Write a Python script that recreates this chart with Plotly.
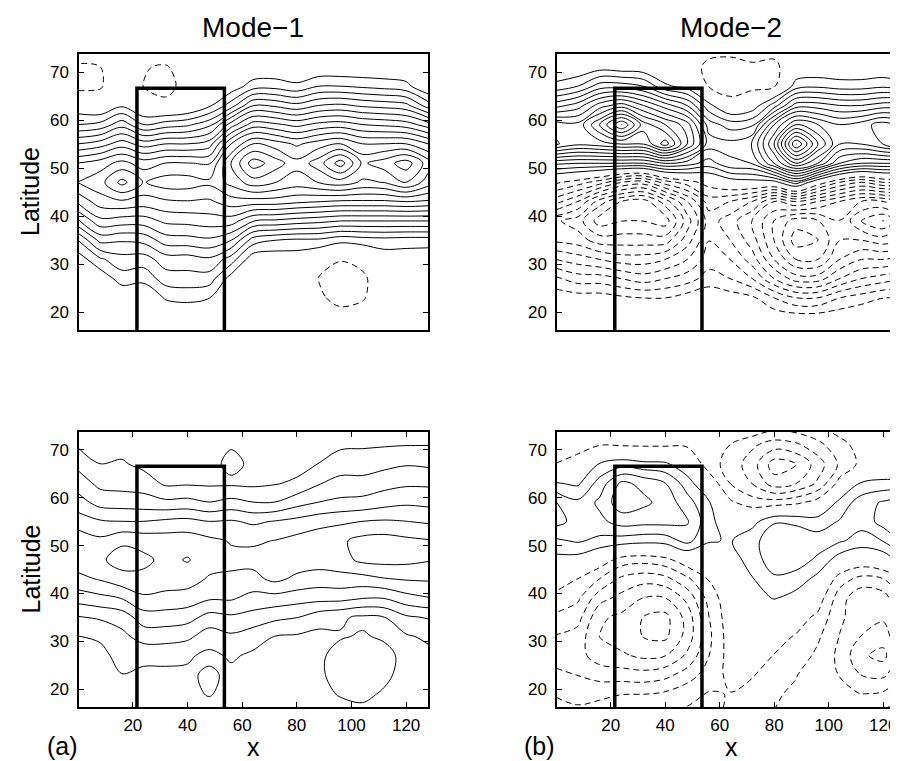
import plotly.graph_objects as go

# ---------------- data ----------------
x_grid = [0, 8, 16, 24, 32, 40, 48, 56, 64, 72, 80, 88, 96, 104, 112, 120, 128]
lat_grid = [15, 19, 23, 27, 31, 35, 39, 43, 47, 51, 55, 59, 63, 67, 71, 75]

# Mode-1, upper panel: one row per latitude (south -> north), one value per x
mode1_upper_rows = [
    [0, 0, 0, 0, 0, 0, 0, 0, 0, 0, 0, 0, 0, 0, 0, 0, 0],
    [0, 0, 0, 0, 0, 0, 0, 0, 0, 0, 0, -0.3, -0.6, -0.4, 0, 0, 0],
    [0, 0, 0, 0, 1.1, 1.3, 1.0, 0, 0, 0, -0.2, -0.8, -1.3, -1.1, -0.2, 0, 0],
    [0, 0.2, 1.5, 1.3, 2.5, 2.6, 2.5, 0.5, 0, 0, -0.4, -1.0, -1.5, -1.2, -0.2, 0, 0],
    [0.4, 1.8, 2.6, 2.5, 3.5, 3.5, 3.8, 2.5, 0.3, 0.2, 0.3, -0.3, -0.9, -0.6, 0.3, 0.3, 0.2],
    [2.0, 4.3, 4.1, 4.3, 5.5, 5.6, 5.8, 5.0, 2.5, 2.0, 1.8, 1.8, 1.3, 1.5, 1.6, 1.5, 1.5],
    [4.8, 6.7, 6.5, 6.5, 7.2, 7.3, 7.5, 7.5, 6.0, 5.8, 5.5, 5.3, 5.0, 5.0, 5.0, 5.0, 5.0],
    [7.2, 8.5, 8.8, 8.5, 8.8, 8.9, 8.8, 9.5, 9.5, 9.5, 9.2, 9.0, 8.8, 8.8, 8.8, 9.0, 8.8],
    [9.0, 9.6, 11.3, 9.9, 10.5, 10.5, 10.2, 11.3, 12.5, 12.0, 11.5, 12.0, 12.5, 11.8, 12.0, 13.0, 11.5],
    [8.0, 8.5, 9.3, 8.5, 9.0, 9.0, 8.9, 12.0, 14.5, 13.5, 12.3, 13.5, 15.5, 12.8, 13.5, 14.5, 12.5],
    [5.0, 5.5, 6.5, 5.5, 6.0, 6.0, 6.5, 10.0, 12.0, 11.5, 10.8, 11.5, 12.0, 11.0, 11.0, 11.0, 10.0],
    [2.0, 2.3, 3.6, 2.0, 2.5, 2.8, 3.7, 6.5, 8.5, 8.2, 7.7, 8.3, 8.5, 8.0, 7.8, 7.5, 6.5],
    [0.2, -0.2, 0.8, -0.4, -0.7, -0.3, 0.8, 2.5, 5.0, 4.8, 4.3, 5.0, 5.2, 4.8, 4.6, 4.3, 2.5],
    [-1.3, -1.1, 0, -1.0, -1.3, -0.6, 0, 0.3, 1.5, 1.6, 1.2, 2.0, 2.0, 1.8, 1.6, 1.3, 0],
    [-1.2, -1.0, 0, -0.9, -1.1, -0.3, 0, 0, 0, 0, 0, 0, 0, 0, 0, 0, 0],
    [0, 0, 0, 0, 0, 0, 0, 0, 0, 0, 0, 0, 0, 0, 0, 0, 0],
]

# Other panels: one latitude profile (south -> north) per x column
mode2_upper_cols = [
    [0, 0, -0.3, -1.8, -4.0, -6.2, -6.8, -3.6, -0.8, 3.2, 9.1, 8.6, 4.6, 1.3, 0, 0],
    [0, 0, -0.5, -2.5, -4.5, -6.5, -7.5, -5.0, -1.5, 3.0, 8.2, 8.3, 5.5, 2.0, 0, 0],
    [0, 0, -0.5, -2.5, -5.0, -7.5, -9.5, -7.5, -2.5, 3.0, 8.5, 11.0, 7.5, 3.5, 0.5, 0],
    [0, 0, -0.8, -3.0, -5.5, -7.5, -9.0, -9.0, -4.0, 3.0, 9.0, 14.0, 8.5, 3.5, 0.3, 0],
    [0, 0, -1.0, -3.5, -5.5, -7.5, -9.0, -9.5, -4.5, 3.0, 9.0, 10.5, 7.0, 3.0, 0.2, 0],
    [0, 0, -1.0, -3.0, -5.0, -7.5, -9.5, -7.5, -2.5, 4.0, 11.5, 9.0, 5.5, 1.2, -0.3, 0],
    [0, 0, -0.5, -2.5, -4.0, -5.5, -6.5, -5.0, -1.5, 3.5, 8.0, 7.5, 4.0, 0.6, -0.3, 0],
    [0, 0, -0.3, -1.5, -2.5, -3.0, -3.5, -2.5, -0.5, 2.5, 4.5, 3.5, 1.3, -1.0, -1.3, -0.5],
    [0, 0, -0.5, -2.0, -3.0, -4.0, -4.5, -3.0, 0.3, 3.8, 4.3, 2.5, -0.3, -1.7, -1.5, -0.5],
    [0, 0, -0.8, -3.0, -4.5, -5.5, -6.0, -4.0, 0.5, 4.0, 5.0, 2.8, 0.3, -1.3, -1.2, -0.3],
    [0, -0.3, -2.0, -5.0, -7.0, -8.0, -8.0, -6.0, 0.5, 7.0, 9.0, 7.0, 2.5, -1.1, -1.3, -0.5],
    [0, -0.5, -3.0, -6.5, -9.0, -10.5, -9.5, -5.0, 2.5, 10.0, 15.0, 10.0, 5.5, 1.5, 0, 0],
    [0, -0.5, -3.0, -6.5, -9.0, -10.0, -9.0, -6.0, -0.2, 8.0, 11.0, 9.0, 5.5, 1.8, 0, 0],
    [0, -0.3, -2.0, -5.0, -7.0, -8.0, -8.0, -7.0, -2.0, 5.0, 8.0, 8.0, 5.0, 1.5, 0, 0],
    [0, 0, -1.5, -4.0, -6.0, -8.0, -10.0, -8.0, -3.0, 4.0, 8.0, 8.5, 5.0, 1.5, 0, 0],
    [0, 0, -1.0, -3.5, -6.0, -8.5, -11.0, -8.0, -2.0, 4.0, 9.0, 9.5, 5.5, 1.8, 0, 0],
    [0, 0, -1.0, -3.0, -5.5, -8.0, -9.0, -7.0, -2.0, 4.0, 10.0, 8.5, 5.5, 1.3, 0, 0],
]

mode1_lower_cols = [
    [0.3, 0.4, 0.5, 0.7, 0.95, 1.9, 3.4, 4.7, 5.5, 5.6, 4.5, 3.4, 2.5, 1.7, 0.85, 0.5],
    [0.3, 0.4, 0.5, 0.7, 1.1, 2.1, 3.7, 5.05, 5.8, 5.2, 4.1, 2.6, 1.7, 0.98, 0.6, 0.4],
    [0.4, 0.6, 0.95, 1.3, 1.7, 2.4, 4.0, 5.6, 6.4, 5.8, 4.0, 2.5, 1.6, 1.1, 0.6, 0.4],
    [0.4, 0.6, 0.75, 1.25, 2.4, 3.5, 4.8, 5.7, 6.2, 5.6, 4.0, 2.4, 1.5, 0.7, 0.5, 0.4],
    [0.4, 0.6, 0.75, 1.25, 2.4, 3.5, 4.7, 5.4, 5.7, 5.5, 4.2, 2.2, 0.8, 0.5, 0.4, 0.4],
    [0.45, 0.7, 0.8, 1.1, 2.2, 3.35, 4.55, 5.4, 6.05, 5.5, 4.3, 2.3, 0.85, 0.5, 0.4, 0.4],
    [0.5, 1.05, 1.15, 0.75, 1.45, 2.6, 4.1, 4.85, 5.4, 5.2, 4.0, 2.0, 0.8, 0.7, 0.6, 0.5],
    [0.5, 0.6, 0.75, 1.1, 1.8, 2.8, 4.1, 4.8, 5.2, 4.9, 4.1, 2.3, 0.8, 1.2, 0.9, 0.6],
    [0.4, 0.5, 0.6, 0.8, 1.4, 2.6, 3.6, 4.7, 5.25, 4.85, 3.8, 2.0, 0.75, 0.8, 0.7, 0.5],
    [0.4, 0.4, 0.5, 0.7, 0.95, 2.2, 3.6, 5.2, 5.5, 5.0, 4.05, 2.0, 0.9, 0.5, 0.4, 0.4],
    [0.3, 0.35, 0.4, 0.6, 0.85, 2.0, 3.4, 4.75, 5.5, 5.3, 4.3, 2.6, 1.15, 0.6, 0.4, 0.3],
    [0.5, 0.7, 0.8, 0.8, 0.7, 1.4, 3.3, 4.5, 5.45, 5.6, 4.6, 3.0, 1.9, 1.0, 0.5, 0.4],
    [0.6, 1.05, 1.35, 1.3, 0.9, 1.1, 3.3, 4.6, 5.6, 5.8, 4.8, 3.2, 2.3, 1.5, 0.8, 0.5],
    [0.7, 1.2, 1.5, 1.45, 1.05, 0.8, 3.0, 4.6, 6.2, 6.3, 5.0, 3.3, 2.3, 1.5, 0.85, 0.6],
    [0.5, 0.85, 1.2, 1.25, 0.85, 0.95, 3.0, 4.9, 6.3, 6.4, 5.1, 3.6, 2.6, 1.7, 0.9, 0.6],
    [0.4, 0.5, 0.6, 0.7, 0.85, 1.8, 3.6, 5.05, 6.25, 6.2, 5.0, 3.8, 2.8, 1.9, 0.95, 0.6],
    [0.3, 0.4, 0.5, 0.7, 1.15, 2.05, 3.9, 5.1, 6.05, 6.05, 4.85, 3.7, 2.8, 1.8, 0.95, 0.6],
]

mode2_lower_cols = [
    [-1.6, -2.05, -2.8, -3.3, -3.05, -2.2, -1.3, -0.4, 0.6, 1.8, 3.3, 3.05, 1.05, -0.95, -1.3, -1.2],
    [-1.8, -2.2, -3.0, -3.6, -3.4, -2.6, -1.8, -1.0, 0.5, 2.1, 2.6, 2.2, 0.8, -0.7, -1.2, -1.1],
    [-1.5, -2.2, -3.4, -4.5, -5.0, -4.8, -3.6, -2.0, -0.3, 1.7, 2.7, 3.2, 2.4, 1.1, -1.0, -1.1],
    [-1.3, -2.0, -3.5, -4.8, -5.5, -5.2, -4.3, -3.2, -1.4, 1.5, 3.4, 4.6, 4.2, 1.6, -1.05, -1.1],
    [-1.2, -2.0, -3.6, -5.2, -6.0, -6.0, -5.0, -3.6, -1.6, 1.3, 3.3, 4.2, 3.7, 1.3, -1.1, -1.2],
    [-1.0, -1.8, -3.3, -5.0, -6.2, -6.3, -5.0, -3.3, -1.3, 1.4, 3.3, 3.6, 3.0, 1.2, -1.1, -1.2],
    [-0.8, -1.3, -2.5, -3.8, -4.6, -4.6, -3.7, -2.2, -0.3, 2.3, 3.1, 2.4, 1.5, 0.2, -1.1, -1.3],
    [-0.5, -0.9, -1.5, -2.0, -2.2, -2.0, -1.6, -0.9, 0.2, 1.05, 1.3, 1.1, -0.2, -1.5, -1.6, -0.8],
    [-1.3, -1.0, -0.7, -0.5, -0.4, -0.3, -0.2, 0.1, 0.4, 0.9, 0.2, -0.8, -2.0, -2.4, -2.0, -0.8],
    [-1.5, -1.3, -0.9, -0.6, -0.4, -0.2, 0.3, 0.9, 1.5, 1.7, 0.6, -1.5, -3.0, -3.5, -2.8, -1.0],
    [-2.0, -1.8, -1.4, -1.0, -0.6, 0.1, 1.05, 1.8, 2.5, 2.5, 1.9, -1.5, -4.5, -5.5, -3.5, -1.5],
    [-2.4, -2.2, -1.9, -1.4, -1.05, -0.5, 0.5, 1.6, 2.4, 2.6, 1.8, -1.2, -4.0, -5.0, -3.2, -1.3],
    [-2.5, -2.7, -2.7, -2.2, -1.8, -1.2, -0.4, 0.6, 1.8, 2.4, 1.5, -0.5, -2.8, -3.5, -2.3, -1.0],
    [-2.0, -2.5, -3.0, -3.2, -3.0, -2.8, -2.5, -1.5, 0.4, 2.1, 2.05, 1.3, -0.6, -1.8, -1.3, -0.5],
    [-2.0, -3.0, -4.0, -4.8, -4.0, -3.5, -3.8, -2.3, -0.2, 1.6, 2.3, 2.5, 1.1, -0.7, -0.6, -0.3],
    [-1.8, -2.8, -4.2, -5.3, -4.5, -3.8, -3.5, -2.0, 0.2, 2.0, 3.4, 3.1, 1.3, -0.3, -0.5, -0.3],
    [-1.3, -2.0, -2.8, -3.2, -2.8, -2.2, -1.6, -0.8, 1.6, 3.2, 4.3, 3.6, 1.2, -0.2, -0.4, -0.3],
]

box_x = [21.5, 21.5, 53.5, 53.5]
box_lat = [16.25, 66.6, 66.6, 16.25]

x_ticks = [20, 40, 60, 80, 100, 120]
lat_ticks = [20, 30, 40, 50, 60, 70]
column_titles = ["Mode\u22121", "Mode\u22122"]
panel_tags = ["(a)", "(b)"]
x_label = "x"
y_label = "Latitude"

X_RANGE = [0.3, 128]
LAT_RANGE = [16.25, 73.75]


def to_rows(cols):
    return [list(r) for r in zip(*cols)]


fields = [
    mode1_upper_rows,
    to_rows(mode2_upper_cols),
    to_rows(mode1_lower_cols),
    to_rows(mode2_lower_cols),
]

W, H = 898, 761
FONT = "Liberation Sans, Arial, Helvetica, sans-serif"

fig = go.Figure()

for i, z in enumerate(fields):
    sfx = "" if i == 0 else str(i + 1)
    xa, ya = "x" + sfx, "y" + sfx
    fig.add_trace(go.Contour(
        x=x_grid, y=lat_grid, z=z, autocontour=False,
        contours=dict(start=0.97, end=40.97, size=1, coloring="none"),
        line=dict(color="black", width=1, smoothing=1.0),
        showscale=False, hoverinfo="skip", xaxis=xa, yaxis=ya,
    ))
    fig.add_trace(go.Contour(
        x=x_grid, y=lat_grid, z=z, autocontour=False,
        contours=dict(start=-39.97, end=-0.97, size=1, coloring="none"),
        line=dict(color="black", width=1, smoothing=1.0, dash="6px,4px"),
        showscale=False, hoverinfo="skip", xaxis=xa, yaxis=ya,
    ))
    fig.add_trace(go.Scatter(
        x=box_x, y=box_lat, mode="lines",
        line=dict(color="black", width=3.5),
        showlegend=False, hoverinfo="skip", xaxis=xa, yaxis=ya,
    ))

# panel geometry (pixels)
left_px = [(71, 420), (549, 897)]
top_px = [(46, 322), (424, 699)]


def xdom(p):
    return [p[0] / W, p[1] / W]


def ydom(p):
    return [1 - p[1] / H, 1 - p[0] / H]


axis_common = dict(showline=True, linecolor="black", linewidth=1.5,
                   showgrid=False, zeroline=False,
                   tickfont=dict(family=FONT, size=17, color="black"),
                   ticklen=5, tickwidth=1, tickcolor="black")

layout = dict(
    width=W, height=H, margin=dict(l=0, r=0, t=0, b=0),
    paper_bgcolor="white", plot_bgcolor="white", showlegend=False,
)

for i in range(4):
    row, col = divmod(i, 2)
    sfx = "" if i == 0 else str(i + 1)
    xa_name, ya_name = "xaxis" + sfx, "yaxis" + sfx
    xaxis = dict(axis_common, domain=xdom(left_px[col]), anchor="y" + sfx,
                 range=X_RANGE, tickvals=x_ticks)
    if row == 0:
        xaxis.update(ticks="", showticklabels=False, mirror=True)
    else:
        xaxis.update(ticks="inside", mirror="ticks", ticklabelstandoff=2)
    yaxis = dict(axis_common, domain=ydom(top_px[row]), anchor="x" + sfx,
                 range=LAT_RANGE, tickvals=lat_ticks, ticks="inside",
                 mirror="ticks", ticklabelstandoff=5)
    layout[xa_name] = xaxis
    layout[ya_name] = yaxis

fig.update_layout(**layout)

ann = []
for col in range(2):
    cx = (left_px[col][0] + left_px[col][1]) / 2 / W
    ann.append(dict(text=column_titles[col], x=cx, y=1 - 19 / H, xref="paper", yref="paper",
                    showarrow=False, xanchor="center", yanchor="middle",
                    font=dict(family=FONT, size=28, color="black")))
    ann.append(dict(text=x_label, x=cx, y=1 - 739 / H, xref="paper", yref="paper",
                    showarrow=False, xanchor="center", yanchor="middle",
                    font=dict(family=FONT, size=25, color="black")))
tag_x = [54, 531]
for col in range(2):
    ann.append(dict(text=panel_tags[col], x=tag_x[col] / W, y=1 - 738 / H, xref="paper", yref="paper",
                    showarrow=False, xanchor="center", yanchor="middle",
                    font=dict(family=FONT, size=25, color="black")))
for row in range(2):
    cy = 1 - (top_px[row][0] + top_px[row][1]) / 2 / H
    ann.append(dict(text=y_label, x=22 / W, y=cy, xref="paper", yref="paper",
                    showarrow=False, xanchor="center", yanchor="middle", textangle=-90,
                    font=dict(family=FONT, size=25, color="black")))
fig.update_layout(annotations=ann)

fig.write_html("out.html")
